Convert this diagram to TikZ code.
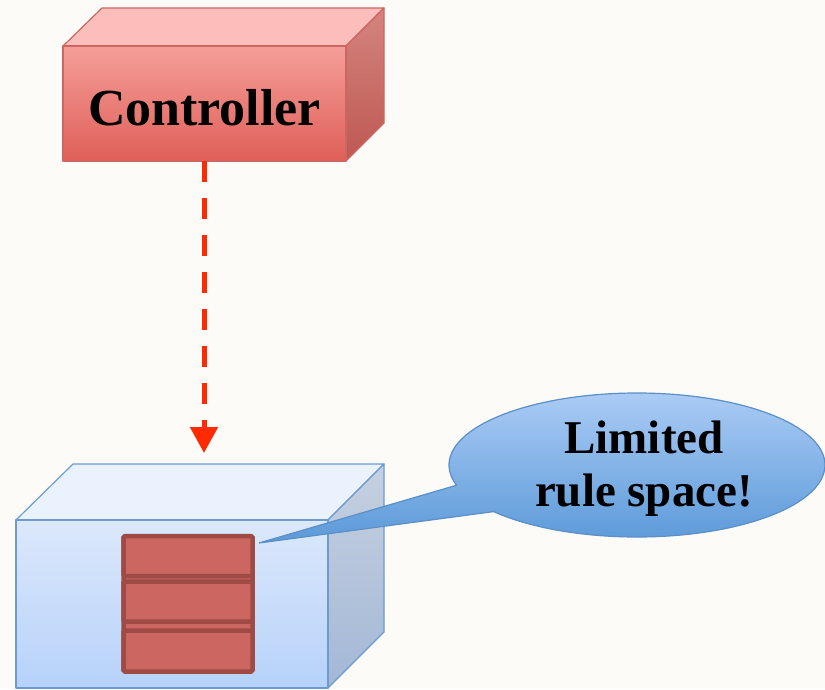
\documentclass[tikz,border=0pt]{standalone}
\usepackage{fontspec}
\setmainfont{Liberation Serif}
\usetikzlibrary{arrows.meta,shapes.callouts}

\definecolor{paper}{HTML}{FCFBF7}
\definecolor{ctrlTop}{HTML}{FBBEBB}
\definecolor{ctrlFrontA}{HTML}{F59E99}
\definecolor{ctrlFrontB}{HTML}{DF5F58}
\definecolor{ctrlSideA}{HTML}{D5847F}
\definecolor{ctrlSideB}{HTML}{BE5852}
\definecolor{ctrlEdge}{HTML}{CC6660}
\definecolor{swTop}{HTML}{EAF2FD}
\definecolor{swFrontA}{HTML}{DCE8FB}
\definecolor{swFrontB}{HTML}{B6D2FA}
\definecolor{swSideA}{HTML}{C6D1E0}
\definecolor{swSideB}{HTML}{A3B7D6}
\definecolor{swEdge}{HTML}{6C9BD2}
\definecolor{ruleFill}{HTML}{CC6660}
\definecolor{ruleEdge}{HTML}{9E4A45}
\definecolor{bubbleA}{HTML}{AACBF5}
\definecolor{bubbleB}{HTML}{5A99D8}
\definecolor{bubbleEdge}{HTML}{5B8FC6}
\definecolor{flow}{HTML}{FF2A00}

\tikzset{
  face/.style={line width=1.2pt, line join=round},
  ctrlface/.style={face, draw=ctrlEdge},
  swface/.style={face, draw=swEdge},
  rulebox/.style={draw=ruleEdge, line width=4.5pt, fill=ruleFill, rounded corners=1.5pt},
  label/.style={font=\bfseries, text=black, align=center},
  flowline/.style={draw=flow, line width=5pt, dash pattern=on 21pt off 16pt,
    -{Triangle[width=27pt,length=26pt]}},
}

\begin{document}
\begin{tikzpicture}[x=1pt,y=-1pt]
  \useasboundingbox (0,0) rectangle (825,689);
  \fill[paper] (0,0) rectangle (825,689);

  % ---- controller block ----
  \path[ctrlface, fill=ctrlTop] (63,46) -- (102,8) -- (384,8) -- (346,46) -- cycle;
  \path[ctrlface, top color=ctrlSideA, bottom color=ctrlSideB]
    (346,46) -- (384,8) -- (384,123) -- (346,161) -- cycle;
  \path[ctrlface, top color=ctrlFrontA, bottom color=ctrlFrontB]
    (63,46) rectangle (346,161);
  \node[label, minimum width=283pt, minimum height=107pt,
        font=\bfseries\fontsize{52}{60}\selectfont] (ctrl) at (204.5,107.5) {Controller};

  % ---- switch block ----
  \path[swface, fill=swTop] (16,520) -- (73,464) -- (384,464) -- (328,520) -- cycle;
  \path[swface, top color=swSideA, bottom color=swSideB]
    (328,520) -- (384,464) -- (384,632) -- (328,688) -- cycle;
  \path[swface, top color=swFrontA, bottom color=swFrontB]
    (16,520) rectangle (328,688);
  \node[minimum width=312pt, minimum height=168pt] (sw) at (172,604) {};

  % ---- rule table ----
  \node[rulebox, minimum width=129pt, minimum height=135pt, inner sep=0pt] (rules) at (188,604) {};
  \node[rulebox, minimum width=129pt, minimum height=40pt, inner sep=0pt] (r1) at (188,556) {};
  \node[rulebox, minimum width=129pt, minimum height=40pt, inner sep=0pt] (r2) at (188,601.5) {};
  \node[rulebox, minimum width=129pt, minimum height=41pt, inner sep=0pt] (r3) at (188,651) {};

  % ---- control channel ----
  \coordinate (tip) at (204,453);
  \draw[flowline] (ctrl.south -| tip) -- (tip);

  % ---- callout ----
  \coordinate (pin) at (259,543);
  \node[ellipse callout, draw=bubbleEdge, line width=1.2pt,
        top color=bubbleA, bottom color=bubbleB,
        minimum width=376pt, minimum height=144pt, inner sep=0pt,
        callout absolute pointer={(pin)}, callout pointer arc=24] (bubble) at (637,465) {};
  \node[label, font=\bfseries\fontsize{47}{53}\selectfont] (bubbletext) at (644,469)
    {Limited\\rule space!};
\end{tikzpicture}
\end{document}
